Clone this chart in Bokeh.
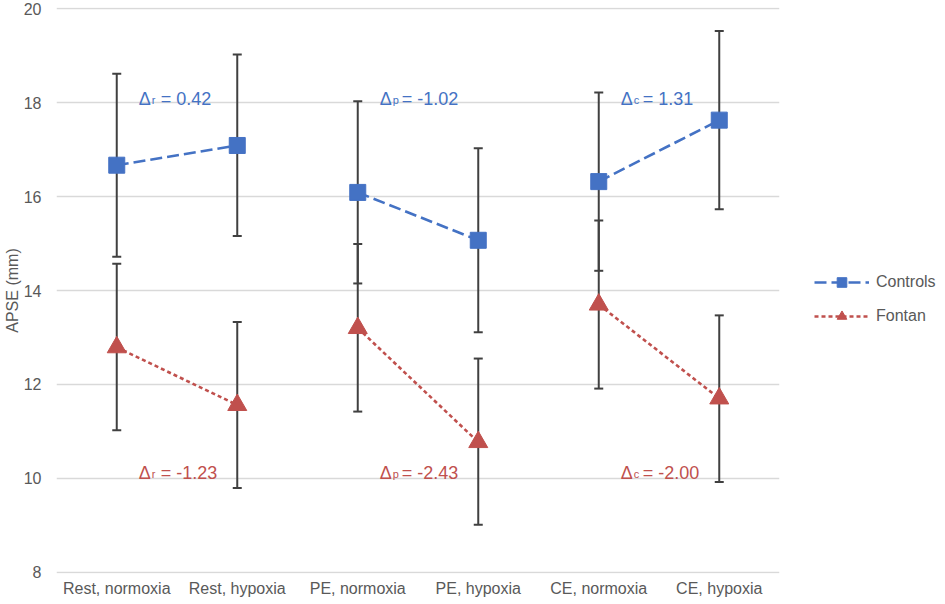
from bokeh.plotting import figure
from bokeh.models import (ColumnDataSource, Whisker, TeeHead, Range1d, Legend,
                          LegendItem, FixedTicker)
from bokeh.core.properties import value
from bokeh.embed import file_html
from bokeh.resources import INLINE

conditions = ["Rest, normoxia", "Rest, hypoxia", "PE, normoxia",
              "PE, hypoxia", "CE, normoxia", "CE, hypoxia"]
controls_mean = [16.67, 17.09, 16.09, 15.07, 16.32, 17.63]
controls_upper = [18.62, 19.03, 18.03, 17.03, 18.22, 19.53]
controls_lower = [14.72, 15.16, 14.15, 13.11, 14.42, 15.73]
fontan_mean = [12.79, 11.56, 13.20, 10.77, 13.70, 11.70]
fontan_upper = [14.57, 13.33, 14.99, 12.55, 15.49, 13.47]
fontan_lower = [11.02, 9.79, 11.42, 9.01, 11.91, 9.92]
phase_subscripts = ["r", "p", "c"]
y_ticks = [8, 10, 12, 14, 16, 18, 20]
controls_label_y = 18.09
fontan_label_y = 10.12

BLUE = "#4472C4"
RED = "#C0504D"
GREY = "#595959"
BAR = "#404040"
FONT = "Liberation Sans"

p = figure(x_range=conditions, y_range=Range1d(7.97, 20.03),
           frame_width=723, frame_height=566,
           output_backend="svg", toolbar_location=None,
           min_border_left=48, min_border_right=157, min_border_top=7,
           min_border_bottom=0)
p.outline_line_color = None
p.background_fill_color = "white"
p.border_fill_color = "white"

p.xgrid.grid_line_color = None
p.ygrid.grid_line_color = "#D9D9D9"
p.ygrid.grid_line_width = 1.3

p.yaxis.ticker = FixedTicker(ticks=y_ticks)
p.yaxis.axis_label = "APSE (mm)"
p.yaxis.axis_label_text_font = FONT
p.yaxis.axis_label_text_font_style = "normal"
p.yaxis.axis_label_text_font_size = "16px"
p.yaxis.axis_label_text_color = GREY
p.yaxis.axis_label_standoff = 0
for ax in (p.xaxis, p.yaxis):
    ax.axis_line_color = None
    ax.major_tick_line_color = None
    ax.minor_tick_line_color = None
    ax.major_label_text_font = FONT
    ax.major_label_text_font_size = "16px"
    ax.major_label_text_color = GREY
p.yaxis.major_label_standoff = 9
p.xaxis.major_label_standoff = 0

# error bars
src = ColumnDataSource(dict(x=conditions, cu=controls_upper, cl=controls_lower,
                            fu=fontan_upper, fl=fontan_lower))
for up, lo in (("cu", "cl"), ("fu", "fl")):
    w = Whisker(source=src, base="x", upper=up, lower=lo, dimension="height",
                line_color=BAR, line_width=2, level="underlay",
                upper_head=TeeHead(size=9, line_color=BAR, line_width=2),
                lower_head=TeeHead(size=9, line_color=BAR, line_width=2))
    p.add_layout(w)

ctrl_lines, fon_lines = [], []
for i in range(0, 6, 2):
    ctrl_lines.append(p.line(conditions[i:i + 2], controls_mean[i:i + 2],
                             line_color=BLUE, line_width=2.6, line_dash="12 5"))
    fon_lines.append(p.line(conditions[i:i + 2], fontan_mean[i:i + 2],
                            line_color=RED, line_width=2.6, line_dash="4 3"))
ctrl_pts = p.scatter(conditions, controls_mean, marker="square", size=16,
                     fill_color=BLUE, line_color=BLUE)
fon_pts = p.scatter(conditions, fontan_mean, marker="triangle", size=19,
                    fill_color=RED, line_color=RED)

# delta annotations
base_x = conditions[0::2]
ctrl_delta = ["= %.2f" % round(controls_mean[i + 1] - controls_mean[i], 2) for i in range(0, 6, 2)]
fon_delta = ["= %.2f" % round(fontan_mean[i + 1] - fontan_mean[i], 2) for i in range(0, 6, 2)]
for yv, texts, col in ((controls_label_y, ctrl_delta, BLUE), (fontan_label_y, fon_delta, RED)):
    ys = [yv] * 3
    p.text(base_x, ys, text=["Δ"] * 3, x_offset=22, text_font=value(FONT),
           text_font_size="18px", text_color=col, text_baseline="alphabetic",
           text_align="left")
    p.text(base_x, [yv - 0.035] * 3, text=phase_subscripts, x_offset=35,
           text_font=value(FONT), text_font_size="11px", text_color=col,
           text_baseline="alphabetic", text_align="left")
    p.text(base_x, ys, text=texts, x_offset=44, text_font=value(FONT),
           text_font_size="18px", text_color=col, text_baseline="alphabetic",
           text_align="left")

legend = Legend(items=[LegendItem(label="Controls", renderers=[ctrl_lines[0], ctrl_pts]),
                       LegendItem(label="Fontan", renderers=[fon_lines[0], fon_pts])],
                location=(35, 245), orientation="vertical",
                glyph_width=55, glyph_height=24, spacing=10, label_standoff=7,
                padding=0, margin=0, border_line_color=None,
                background_fill_alpha=0, label_text_font=FONT,
                label_text_font_size="16px", label_text_color=GREY)
p.add_layout(legend, "right")

open("out.html", "w").write(file_html(p, INLINE))
